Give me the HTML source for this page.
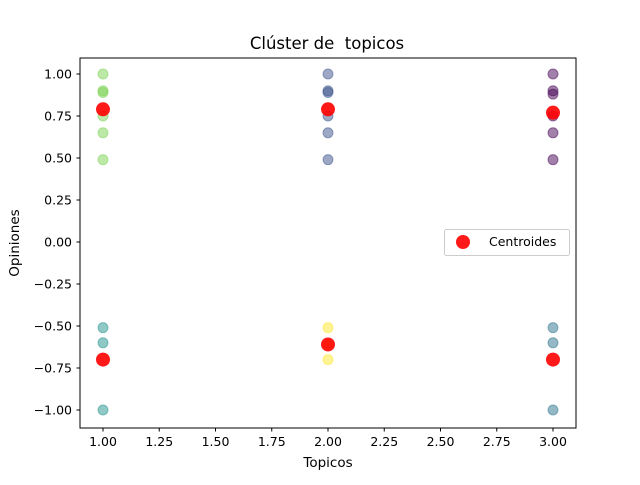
<!DOCTYPE html>
<html><head><meta charset="utf-8"><style>
body{margin:0;background:#fff;font-family:"Liberation Sans","DejaVu Sans",sans-serif}
</style></head><body>
<svg id="chart" width="640" height="480" xmlns="http://www.w3.org/2000/svg" font-family="DejaVu Sans, Liberation Sans, sans-serif">
<rect width="640" height="480" fill="#fff"/>
<text x="327" y="49" font-size="16.5" text-anchor="middle" style="white-space:pre">Clúster de  topicos</text>
<text x="328" y="467" font-size="13.5" text-anchor="middle">Topicos</text>
<text x="19" y="243" font-size="13.5" text-anchor="middle" transform="rotate(-90 19 243)">Opiniones</text>
<g id="marks"></g>
<g id="axes"></g>
<rect x="80" y="58" width="496" height="370" fill="none" stroke="#000" stroke-width="1"/>
<g>
<rect x="444.5" y="229.5" width="125" height="26" rx="2" fill="#fff" fill-opacity="0.8" stroke="#ccc"/>
<circle cx="463" cy="242" r="7" fill="#ff0000" fill-opacity="0.9"/>
<text x="489" y="246" font-size="12.5">Centroides</text>
</g>
</svg>
<script>
const xVals=[1,1,1,1,1,1,2,2,2,2,2,2,3,3,3,3,3,3,1,1,1,2,2,2,3,3,3];
const yVals=[1.0,0.9,0.89,0.75,0.65,0.49,1.0,0.9,0.89,0.75,0.65,0.49,1.0,0.9,0.88,0.75,0.65,0.49,-0.51,-0.6,-1.0,-0.51,-0.61,-0.7,-0.51,-0.6,-1.0];
const colors=["#7ad151","#7ad151","#7ad151","#7ad151","#7ad151","#7ad151","#3b528b","#3b528b","#3b528b","#3b528b","#3b528b","#3b528b","#440154","#440154","#440154","#440154","#440154","#440154","#21918c","#21918c","#21918c","#fde725","#fde725","#fde725","#2c728e","#2c728e","#2c728e"];
const cX=[1,2,3,1,2,3];
const cY=[0.79,0.79,0.77,-0.7,-0.61,-0.7];
const xTicks=[1.0,1.25,1.5,1.75,2.0,2.25,2.5,2.75,3.0];
const yTicks=[1.0,0.75,0.5,0.25,0,-0.25,-0.5,-0.75,-1.0];
const sx=v=>103+(v-1)*225;
const sy=v=>242-v*168;
const NS="http://www.w3.org/2000/svg";
const marks=document.getElementById('marks'),axes=document.getElementById('axes');
for(let i=0;i<xVals.length;i++){
 const c=document.createElementNS(NS,'circle');
 c.setAttribute('cx',sx(xVals[i]));c.setAttribute('cy',sy(yVals[i]));c.setAttribute('r',5);
 c.setAttribute('fill',colors[i]);c.setAttribute('fill-opacity',0.5);
 c.setAttribute('stroke',colors[i]);c.setAttribute('stroke-opacity',0.5);c.setAttribute('stroke-width',1);
 
 
 marks.appendChild(c);
}
for(let i=0;i<cX.length;i++){
 const c=document.createElementNS(NS,'circle');
 c.setAttribute('cx',sx(cX[i]));c.setAttribute('cy',sy(cY[i]));c.setAttribute('r',7);
 c.setAttribute('fill','#ff0000');c.setAttribute('fill-opacity',0.9);
 
 
 marks.appendChild(c);
}
xTicks.forEach(t=>{
 const x=sx(t);
 const l=document.createElementNS(NS,'line');
 l.setAttribute('x1',x);l.setAttribute('x2',x);l.setAttribute('y1',428);l.setAttribute('y2',431.5);l.setAttribute('stroke','#000');
 
 
 axes.appendChild(l);
 const tx=document.createElementNS(NS,'text');
 tx.setAttribute('x',x);tx.setAttribute('y',446);tx.setAttribute('font-size','12.5');tx.setAttribute('text-anchor','middle');
 tx.textContent=t.toFixed(2);
 
 
 axes.appendChild(tx);
});
yTicks.forEach(t=>{
 const y=sy(t);
 const l=document.createElementNS(NS,'line');
 l.setAttribute('x1',76.5);l.setAttribute('x2',80);l.setAttribute('y1',y);l.setAttribute('y2',y);l.setAttribute('stroke','#000');
 
 
 axes.appendChild(l);
 const tx=document.createElementNS(NS,'text');
 tx.setAttribute('x',72);tx.setAttribute('y',y+4.5);tx.setAttribute('font-size','12.5');tx.setAttribute('text-anchor','end');
 tx.textContent=(t<0?'\u2212':'')+Math.abs(t).toFixed(2);
 
 
 axes.appendChild(tx);
});
</script>
</body></html>
